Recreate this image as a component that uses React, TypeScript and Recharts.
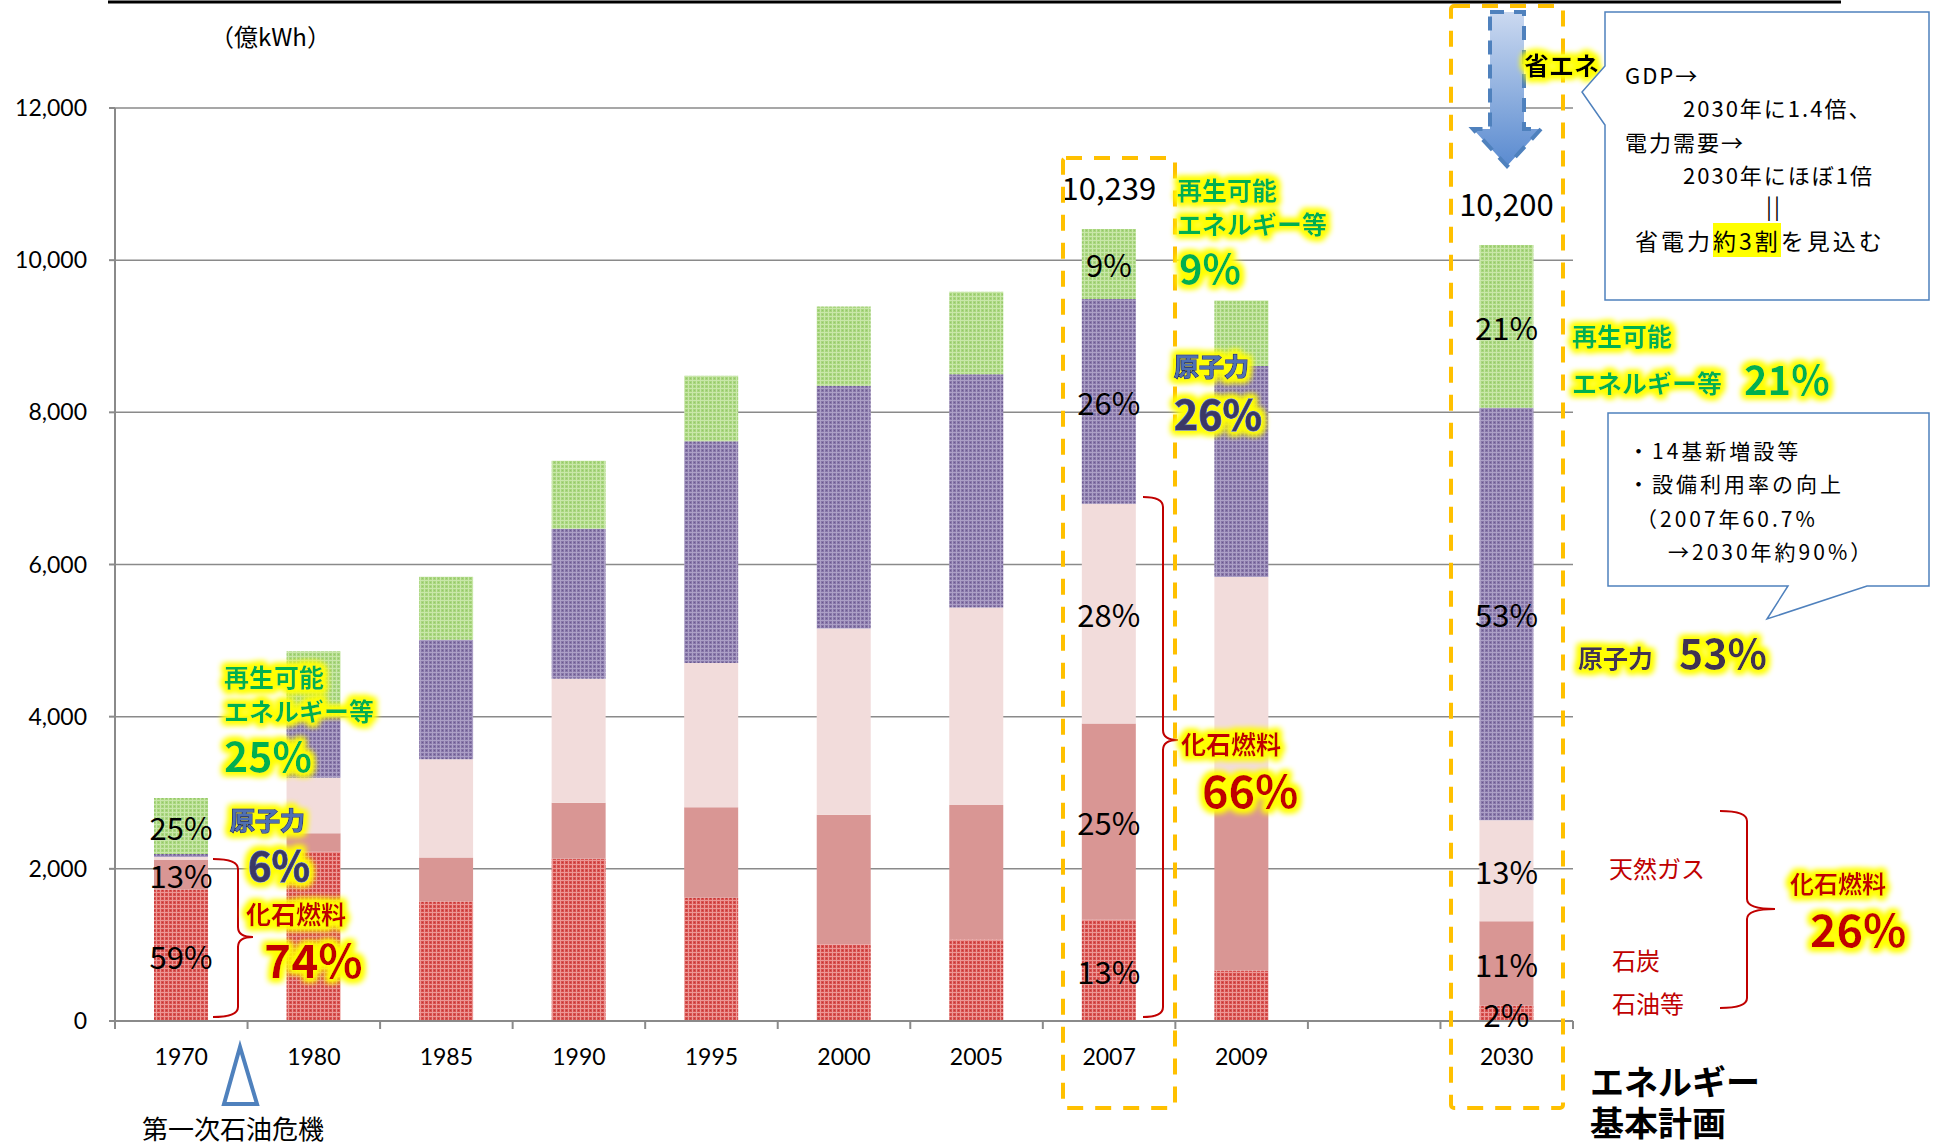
import { BarChart, Bar, XAxis, YAxis, CartesianGrid, LabelList } from 'recharts';

// 発電電力量の推移（億kWh）
const years = ['1970', '1980', '1985', '1990', '1995', '2000', '2005', '2007', '2009', '', '2030'];
const oil = [1730, 2223, 1572, 2132, 1620, 1010, 1070, 1330, 665, null, 200];
const coal = [385, 246, 578, 738, 1190, 1700, 1770, 2580, 2370, null, 1110];
const gas = [40, 729, 1290, 1627, 1895, 2450, 2595, 2890, 2800, null, 1330];
const nuclear = [40, 811, 1571, 1973, 2915, 3190, 3065, 2690, 2775, null, 5420];
const renew = [735, 852, 827, 892, 860, 1040, 1085, 920, 860, null, 2140];

// 棒の中のラベル
const oilPct = ['59%', '', '', '', '', '', '', '13%', '', '', '2%'];
const coalPct = ['13%', '', '', '', '', '', '', '25%', '', '', '11%'];
const gasPct = ['', '', '', '', '', '', '', '28%', '', '', '13%'];
const nucPct = ['', '', '', '', '', '', '', '26%', '', '', '53%'];
const renewPct = ['25%', '', '', '', '', '', '', '9%', '', '', '21%'];
const totals = ['', '', '', '', '', '', '', '10,239', '', '', '10,200'];

const yTicks = [0, 2000, 4000, 6000, 8000, 10000, 12000];

const W = 1933;
const H = 1144;
const MARGIN = { top: 108, right: 360, bottom: 93, left: 0 };
const Y_AXIS_W = 115;
const X_AXIS_H = 30;
const PLOT_LEFT = MARGIN.left + Y_AXIS_W;
const PLOT_RIGHT = W - MARGIN.right;
const PLOT_BOTTOM = H - MARGIN.bottom - X_AXIS_H;
const STEP = (PLOT_RIGHT - PLOT_LEFT) / years.length;

const JP = "'Noto Sans CJK JP', 'Noto Sans', sans-serif";
const AXIS_FONT = "Lato, 'Liberation Sans', sans-serif";
const GRID = '#8a8a8a';

const data = years.map((year, i) => ({
  year,
  oil: oil[i],
  coal: coal[i],
  gas: gas[i],
  nuclear: nuclear[i],
  renew: renew[i],
  oilPct: oilPct[i],
  coalPct: coalPct[i],
  gasPct: gasPct[i],
  nucPct: nucPct[i],
  renewPct: renewPct[i],
  total: totals[i],
}));

const pctLabel = (props: any) => {
  const { x, y, width, height, value } = props;
  if (!value) return null;
  return (
    <text x={x + width / 2} y={y + height / 2} textAnchor="middle" dominantBaseline="central"
      fontFamily={JP} fontSize={31} fill="#000">{value}</text>
  );
};

const totalLabel = (props: any) => {
  const { x, y, width, value } = props;
  if (!value) return null;
  return (
    <text x={x + width / 2} y={y - 42} textAnchor="middle" dominantBaseline="central"
      fontFamily={JP} fontSize={31} fill="#000">{value}</text>
  );
};

const XTick = (props: any) => {
  const { x, payload, index } = props;
  const half = STEP / 2;
  return (
    <g>
      <line x1={x - half} x2={x - half} y1={PLOT_BOTTOM} y2={PLOT_BOTTOM + 8} stroke={GRID} strokeWidth={2} />
      {index === years.length - 1 && (
        <line x1={x + half} x2={x + half} y1={PLOT_BOTTOM} y2={PLOT_BOTTOM + 8} stroke={GRID} strokeWidth={2} />
      )}
      <text x={x} y={PLOT_BOTTOM + 35} textAnchor="middle" dominantBaseline="central"
        fontFamily={AXIS_FONT} fontSize={23} fill="#000">{payload.value}</text>
    </g>
  );
};

const Glow = ({ x, y, size, fill, stroke, anchor = 'start', children }: any) => (
  <text x={x} y={y} fontSize={size} fill={fill} stroke={stroke} strokeWidth={stroke ? 1.5 : 0}
    paintOrder="stroke" fontFamily={JP} fontWeight={700} dominantBaseline="central"
    textAnchor={anchor} filter="url(#glow)">{children}</text>
);

const brace = (x0: number, x1: number, xt: number, y0: number, ym: number, y1: number) => {
  const r = 10;
  return `M${x0},${y0} Q${x1},${y0} ${x1},${y0 + r} L${x1},${ym - r} Q${x1},${ym} ${xt},${ym} ` +
    `Q${x1},${ym} ${x1},${ym + r} L${x1},${y1 - r} Q${x1},${y1} ${x0},${y1}`;
};

const GREEN = '#00B050';
const RED = '#C00000';

const Line = ({ x, y, size = 22, spacing = 2, children }: any) => (
  <div style={{ position: 'absolute', left: x, top: y - 17, height: 34, lineHeight: '34px', fontFamily: JP,
    fontSize: size, letterSpacing: spacing, whiteSpace: 'pre', color: '#000' }}>{children}</div>
);

const App = () => {
  return (
    <div style={{ position: 'absolute', left: 0, top: 0, width: W, height: H, background: '#fff', overflow: 'hidden' }}>
      <svg width={0} height={0} style={{ position: 'absolute' }}>
        <defs>
          <pattern id="pOil" width="4" height="4" patternUnits="userSpaceOnUse">
            <rect width="4" height="4" fill="#D85250" />
            <rect width="4" height="1" fill="#EC9896" />
            <rect width="1" height="4" fill="#EC9896" />
            <rect x="2" y="2" width="1" height="1" fill="#C23636" />
          </pattern>
          <pattern id="pNuc" width="4" height="4" patternUnits="userSpaceOnUse">
            <rect width="4" height="4" fill="#8877A9" />
            <rect width="4" height="1" fill="#ACA0C6" />
            <rect width="1" height="4" fill="#ACA0C6" />
            <rect x="2" y="2" width="1" height="1" fill="#6A5A8E" />
          </pattern>
          <pattern id="pRen" width="4" height="4" patternUnits="userSpaceOnUse">
            <rect width="4" height="4" fill="#A9D67E" />
            <rect width="4" height="1" fill="#C9E7AA" />
            <rect width="1" height="4" fill="#C9E7AA" />
            <rect x="2" y="2" width="1" height="1" fill="#93C66A" />
          </pattern>
        </defs>
      </svg>

      <div style={{ position: 'absolute', left: 0, top: 0 }}>
        <BarChart width={W} height={H} data={data} margin={MARGIN} barCategoryGap={0}>
          <CartesianGrid vertical={false} stroke={GRID} strokeWidth={1.5} />
          <XAxis dataKey="year" interval={0} height={X_AXIS_H} tickLine={false}
            axisLine={{ stroke: GRID, strokeWidth: 2 }} tick={XTick} />
          <YAxis width={Y_AXIS_W} domain={[0, 12000]} ticks={yTicks} interval={0}
            tickFormatter={(v: number) => v.toLocaleString('en-US')}
            axisLine={{ stroke: GRID, strokeWidth: 2 }} tickLine={{ stroke: GRID, strokeWidth: 2 }}
            tickSize={6} tickMargin={22}
            tick={{ fontFamily: AXIS_FONT, fontSize: 23, fill: '#000' }} />
          <Bar dataKey="oil" stackId="a" fill="url(#pOil)" barSize={54} isAnimationActive={false}>
            <LabelList dataKey="oilPct" content={pctLabel} />
          </Bar>
          <Bar dataKey="coal" stackId="a" fill="#D99694" barSize={54} isAnimationActive={false}>
            <LabelList dataKey="coalPct" content={pctLabel} />
          </Bar>
          <Bar dataKey="gas" stackId="a" fill="#F2DCDB" barSize={54} isAnimationActive={false}>
            <LabelList dataKey="gasPct" content={pctLabel} />
          </Bar>
          <Bar dataKey="nuclear" stackId="a" fill="url(#pNuc)" barSize={54} isAnimationActive={false}>
            <LabelList dataKey="nucPct" content={pctLabel} />
          </Bar>
          <Bar dataKey="renew" stackId="a" fill="url(#pRen)" barSize={54} isAnimationActive={false}>
            <LabelList dataKey="renewPct" content={pctLabel} />
            <LabelList dataKey="total" content={totalLabel} />
          </Bar>
        </BarChart>
      </div>

      <svg width={W} height={H} style={{ position: 'absolute', left: 0, top: 0, pointerEvents: 'none' }}>
        <defs>
          <filter id="glow" x="-30%" y="-40%" width="160%" height="180%">
            <feMorphology in="SourceAlpha" operator="dilate" radius="3" result="d" />
            <feGaussianBlur in="d" stdDeviation="3" result="b" />
            <feFlood floodColor="#FFFF00" result="f" />
            <feComposite in="f" in2="b" operator="in" result="g" />
            <feMerge>
              <feMergeNode in="g" />
              <feMergeNode in="g" />
              <feMergeNode in="SourceGraphic" />
            </feMerge>
          </filter>
          <linearGradient id="arrowGrad" x1="0" y1="0" x2="0" y2="1">
            <stop offset="0%" stopColor="#CBD9F0" />
            <stop offset="100%" stopColor="#5A8BD0" />
          </linearGradient>
        </defs>

        {/* top rule and unit */}
        <line x1={108} x2={1841} y1={2} y2={2} stroke="#000" strokeWidth={3} />
        <text x={210} y={35} fontFamily={JP} fontSize={24} dominantBaseline="central">（億kWh）</text>

        {/* highlighted boxes */}
        <rect x={1063} y={158} width={112} height={950} rx={3} fill="none" stroke="#FFC000"
          strokeWidth={4} strokeDasharray="16 12" />
        <rect x={1451} y={6} width={112} height={1102} rx={3} fill="none" stroke="#FFC000"
          strokeWidth={4} strokeDasharray="16 12" />

        {/* 1970-1980 notes */}
        <path d={brace(213, 238, 253, 859, 937, 1017)} fill="none" stroke={RED} strokeWidth={2} />
        <Glow x={224} y={676} size={25} fill={GREEN}>再生可能</Glow>
        <Glow x={224} y={710} size={25} fill={GREEN}>エネルギー等</Glow>
        <Glow x={224} y={754} size={41} fill={GREEN}>25%</Glow>
        <Glow x={230} y={819} size={25} fill="#4F6FB3" stroke="#26305E">原子力</Glow>
        <Glow x={248} y={864} size={40} fill="#3B3866" stroke="#5576B8">6%</Glow>
        <Glow x={246} y={913} size={25} fill={RED}>化石燃料</Glow>
        <Glow x={264} y={958} size={46} fill={RED}>74%</Glow>
        <polygon points="240,1047 224,1104 257,1104" fill="none" stroke="#4F81BD" strokeWidth={4} />
        <text x={142} y={1127} fontFamily={JP} fontSize={26} dominantBaseline="central">第一次石油危機</text>

        {/* 2007 notes */}
        <path d={brace(1143, 1163, 1178, 497, 740, 1017)} fill="none" stroke={RED} strokeWidth={2} />
        <Glow x={1177} y={189} size={25} fill={GREEN}>再生可能</Glow>
        <Glow x={1177} y={223} size={25} fill={GREEN}>エネルギー等</Glow>
        <Glow x={1179} y={267} size={40} fill={GREEN}>9%</Glow>
        <Glow x={1174} y={365} size={25} fill="#4F6FB3" stroke="#26305E">原子力</Glow>
        <Glow x={1174} y={412} size={41} fill="#3B3866" stroke="#5576B8">26%</Glow>
        <Glow x={1181} y={743} size={25} fill={RED}>化石燃料</Glow>
        <Glow x={1202} y={788} size={45} fill={RED}>66%</Glow>

        {/* 2030 notes */}
        <polygon points="1490,12 1524,12 1524,129 1541,129 1507,166 1473,129 1490,129"
          fill="url(#arrowGrad)" stroke="#4F81BD" strokeWidth={4} strokeDasharray="14 10" />
        <Glow x={1524} y={64} size={25} fill="#000">省エネ</Glow>

        <path d="M1605,12 H1929 V300 H1605 V125 L1582,92 L1605,66 Z" fill="#fff" stroke="#4F81BD" strokeWidth={1.5} />
        <path d="M1608,413 H1929 V586 H1867 L1767,619 L1788,586 H1608 Z" fill="#fff" stroke="#4F81BD" strokeWidth={1.5} />

        <Glow x={1572} y={335} size={25} fill={GREEN}>再生可能</Glow>
        <Glow x={1572} y={382} size={25} fill={GREEN}>エネルギー等</Glow>
        <Glow x={1744} y={378} size={40} fill={GREEN}>21%</Glow>
        <Glow x={1578} y={657} size={25} fill="#3F3151">原子力</Glow>
        <Glow x={1679} y={651} size={41} fill="#3F3151">53%</Glow>

        <path d={brace(1720, 1747, 1775, 811, 909, 1008)} fill="none" stroke={RED} strokeWidth={2} />
        <text x={1609} y={867} fontFamily={JP} fontSize={24} fill={RED} dominantBaseline="central">天然ガス</text>
        <text x={1612} y={959} fontFamily={JP} fontSize={24} fill={RED} dominantBaseline="central">石炭</text>
        <text x={1612} y={1002} fontFamily={JP} fontSize={24} fill={RED} dominantBaseline="central">石油等</text>
        <Glow x={1790} y={882} size={24} fill={RED}>化石燃料</Glow>
        <Glow x={1810} y={927} size={45} fill={RED}>26%</Glow>

        <text x={1590} y={1080} fontFamily={JP} fontSize={34} fontWeight={700} dominantBaseline="central">エネルギー</text>
        <text x={1590} y={1121} fontFamily={JP} fontSize={34} fontWeight={700} dominantBaseline="central">基本計画</text>
      </svg>

      <Line x={1625} y={74}>GDP→</Line>
      <Line x={1683} y={107}>2030年に1.4倍、</Line>
      <Line x={1625} y={141}>電力需要→</Line>
      <Line x={1683} y={174}>2030年にほぼ1倍</Line>
      <Line x={1766} y={205}>||</Line>
      <Line x={1635} y={240} size={23} spacing={3}>
        省電力<span style={{ background: '#FFFF00' }}>約3割</span>を見込む
      </Line>
      <Line x={1628} y={450} size={21} spacing={3}>・14基新増設等</Line>
      <Line x={1628} y={483} size={21} spacing={3}>・設備利用率の向上</Line>
      <Line x={1636} y={518} size={21} spacing={3}>（2007年60.7%</Line>
      <Line x={1668} y={551} size={21} spacing={3}>→2030年約90%）</Line>
    </div>
  );
};

export default App;
